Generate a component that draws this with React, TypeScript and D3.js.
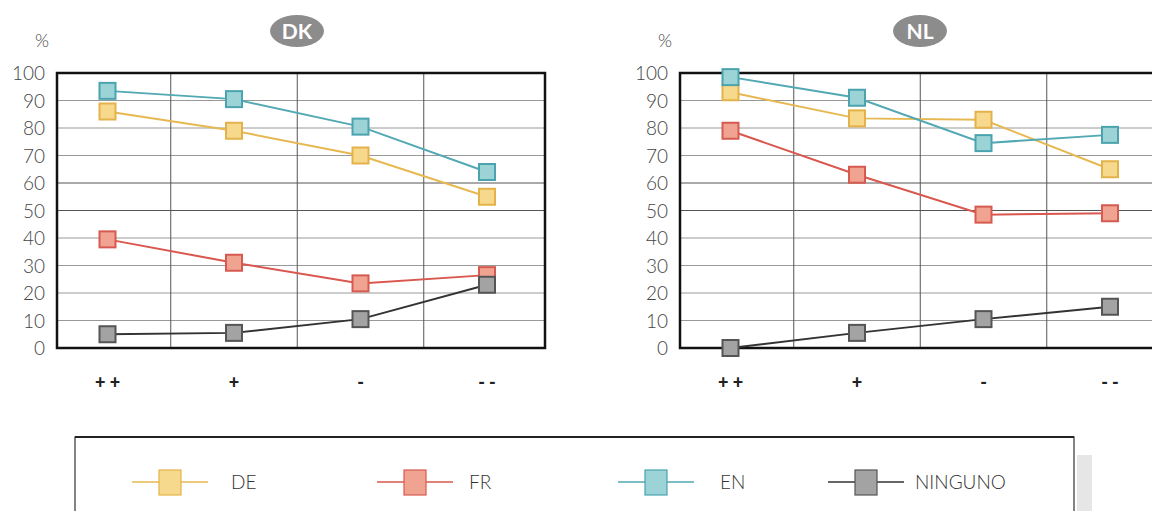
import React from 'react';
import * as d3 from 'd3';

const categories = ['++', '+', '-', '--'];
const categoryLabels = ['+ +', '+', '-', '- -'];
const yTicks = [0, 10, 20, 30, 40, 50, 60, 70, 80, 90, 100];
const seriesNames = ['DE', 'FR', 'EN', 'NINGUNO'];

const dkDE = [86, 79, 70, 55];
const dkFR = [39.5, 31, 23.5, 26.5];
const dkEN = [93.5, 90.5, 80.5, 64];
const dkNone = [5, 5.5, 10.5, 23];

const nlDE = [93, 83.5, 83, 65];
const nlFR = [79, 63, 48.5, 49];
const nlEN = [98.5, 91, 74.5, 77.5];
const nlNone = [0, 5.5, 10.5, 15];

const styles: Record<string, { fill: string; stroke: string; line: string }> = {
  DE: { fill: '#f6d98c', stroke: '#e4b24a', line: '#e6b850' },
  FR: { fill: '#f0a390', stroke: '#d75a50', line: '#d9574e' },
  EN: { fill: '#9cd3d6', stroke: '#4aa3ae', line: '#52a8b3' },
  NINGUNO: { fill: '#a3a3a3', stroke: '#555', line: '#333' },
};

const FONT = "Lato, 'Open Sans', sans-serif";

function Panel({ left, title, data }: { left: number; title: string; data: Record<string, number[]> }) {
  const top = 73;
  const bottom = 348;
  const right = left + 488;
  const y = d3.scaleLinear().domain([0, 100]).range([bottom, top]);
  const x = d3.scalePoint<string>().domain(categories).range([left + 50.5, left + 430]);
  const step = x.step();
  const line = d3
    .line<number>()
    .x((_, i) => x(categories[i]) as number)
    .y((d) => y(d));
  const vgrid = categories.slice(1).map((c) => (x(c) as number) - step / 2);
  const titleX = left + 240;
  return (
    <g>
      <ellipse cx={titleX} cy={31} rx={27} ry={16} fill="#8c8c8c" />
      <text x={titleX} y={38.5} textAnchor="middle" fill="#fff" fontFamily={FONT} fontWeight={700} fontSize={21}>
        {title}
      </text>
      <text x={left - 15} y={47} textAnchor="middle" fill="#444" fontFamily={FONT} fontWeight={300} fontSize={18}>
        %
      </text>
      {yTicks.map((t) => (
        <line key={'h' + t} x1={left} x2={right} y1={y(t)} y2={y(t)} stroke={t === 50 || t === 60 ? '#555' : '#999'} strokeWidth={1} />
      ))}
      {vgrid.map((vx, i) => (
        <line key={'v' + i} x1={vx} x2={vx} y1={top} y2={bottom} stroke="#555" strokeWidth={1} />
      ))}
      <rect x={left} y={top} width={right - left} height={bottom - top} fill="none" stroke="#111" strokeWidth={2.5} />
      {yTicks.map((t) => (
        <text key={'t' + t} x={left - 12} y={y(t) + 7} textAnchor="end" fill="#444" fontFamily={FONT} fontWeight={300} fontSize={19}>
          {t}
        </text>
      ))}
      {categories.map((c, i) => (
        <text key={'c' + c} x={x(c) as number} y={389} textAnchor="middle" fill="#222" fontFamily={FONT} fontWeight={900} fontSize={18}>
          {categoryLabels[i]}
        </text>
      ))}
      {seriesNames.map((s) => (
        <g key={s}>
          <path d={line(data[s]) || ''} fill="none" stroke={styles[s].line} strokeWidth={2} />
          {data[s].map((v, i) => (
            <rect
              key={i}
              x={(x(categories[i]) as number) - 8}
              y={y(v) - 8}
              width={16}
              height={16}
              fill={styles[s].fill}
              stroke={styles[s].stroke}
              strokeWidth={2}
            />
          ))}
        </g>
      ))}
    </g>
  );
}

const legendX = [170, 415, 656, 866];
const legendTextX = [231, 469, 720, 915];

export default function App() {
  return (
    <svg width={1152} height={511} style={{ position: 'absolute', left: 0, top: 0, background: '#fff' }}>
      <rect x={0} y={0} width={1152} height={511} fill="#fff" />
      <Panel left={57} title="DK" data={{ DE: dkDE, FR: dkFR, EN: dkEN, NINGUNO: dkNone }} />
      <Panel left={680} title="NL" data={{ DE: nlDE, FR: nlFR, EN: nlEN, NINGUNO: nlNone }} />
      <rect x={1077} y={455} width={15} height={56} fill="#e6e6e6" />
      <rect x={75} y={437} width={999} height={90} fill="#fff" stroke="#333" strokeWidth={1.2} />
      <line x1={75} x2={1074} y1={437} y2={437} stroke="#222" strokeWidth={2} />
      {seriesNames.map((s, i) => (
        <g key={s}>
          <line x1={legendX[i] - 38} x2={legendX[i] + 38} y1={482} y2={482} stroke={styles[s].line} strokeWidth={1.5} />
          <rect x={legendX[i] - 11} y={470} width={22} height={25} fill={styles[s].fill} stroke={styles[s].stroke} strokeWidth={1.2} />
          <text x={legendTextX[i]} y={489} fill="#333" fontFamily={FONT} fontWeight={300} fontSize={19} textAnchor="start">
            {s}
          </text>
        </g>
      ))}
    </svg>
  );
}
